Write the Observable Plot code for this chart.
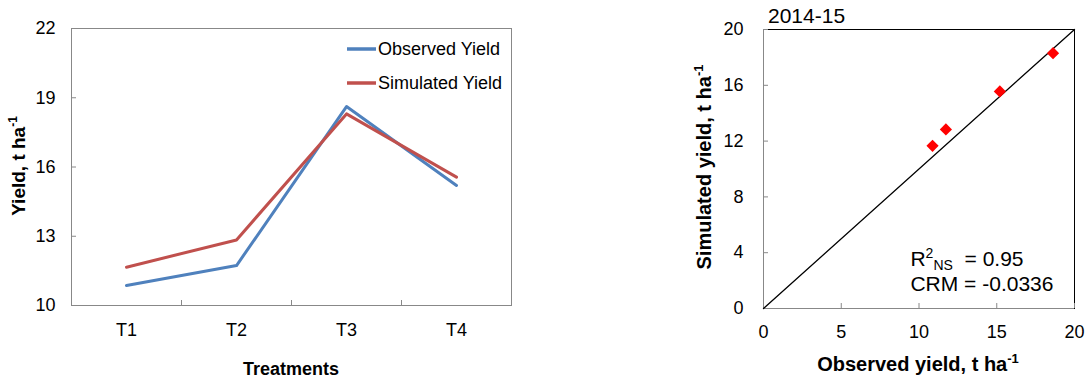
<!DOCTYPE html>
<html><head><meta charset="utf-8">
<script src="https://cdn.jsdelivr.net/npm/d3@7"></script>
<script src="https://cdn.jsdelivr.net/npm/@observablehq/plot@0.6"></script>
<style>
body{margin:0;background:#fff}
#c{display:flex;width:1088px;height:379px}
svg{font-family:"Liberation Sans",Arial,sans-serif}
</style>
</head><body><div id="c"></div>
<script>
// ---- data ----
const treatments = ["T1", "T2", "T3", "T4"];
const observed = [10.87, 11.73, 18.62, 15.2];
const simulated = [11.66, 12.84, 18.3, 15.56];
const seriesNames = ["Observed Yield", "Simulated Yield"];
const seriesColors = ["#4F81BD", "#C0504D"];
const yTicksLeft = [10, 13, 16, 19, 22];
const xTicksRight = [0, 5, 10, 15, 20];
const yTicksRight = [0, 4, 8, 12, 16, 20];
const oneToOne = [0, 20];
const panelTitle = "2014-15";
const statNames = ["R", "CRM"];
const statValues = ["0.95", "-0.0336"];
const statX = [9.45, 9.45];
const statY = [3.5, 1.75];

const FONT = '"Liberation Sans",Arial,sans-serif';

// ---- left panel ----
const rows = treatments.flatMap((t, i) => [
  {i: i + 1, t, y: observed[i], s: seriesNames[0]},
  {i: i + 1, t, y: simulated[i], s: seriesNames[1]}
]);
const left = Plot.plot({
  width: 680, height: 379,
  marginLeft: 71, marginRight: 169, marginTop: 28, marginBottom: 74,
  style: {fontSize: "18px", fontFamily: FONT, color: "#000", background: "transparent"},
  x: {domain: [0.5, 4.5]},
  y: {domain: [10, 22]},
  color: {domain: seriesNames, range: seriesColors},
  marks: [
    Plot.frame({stroke: "#888"}),
    Plot.axisY({ticks: yTicksLeft, tickSize: -5, tickPadding: 21, stroke: "#888", label: null}),
    Plot.axisX({ticks: [1, 2, 3, 4], tickFormat: d => treatments[d - 1], tickSize: 0, tickPadding: 18, label: null}),
    Plot.axisX({ticks: [1.5, 2.5, 3.5], tickSize: -5, tickFormat: () => "", stroke: "#888", label: null}),
    Plot.line(rows, {x: "i", y: "y", stroke: "s", strokeWidth: 3})
  ]
});

// ---- right panel ----
const pairs = observed.map((o, i) => ({o, s: simulated[i]}));
const stats = statNames.map((n, i) => ({n, v: statValues[i], x: statX[i], y: statY[i]}));
const right = Plot.plot({
  width: 408, height: 379,
  marginLeft: 83, marginRight: 14, marginTop: 29, marginBottom: 71,
  style: {fontSize: "18px", fontFamily: FONT, color: "#000", background: "transparent"},
  x: {domain: [0, 20]},
  y: {domain: [0, 20]},
  marks: [
    Plot.frame({stroke: "#000"}),
    Plot.ruleX([0], {stroke: "#888"}),
    Plot.ruleY([0], {stroke: "#888"}),
    Plot.axisX({ticks: xTicksRight, tickSize: -5, tickPadding: 22, stroke: "#888", label: null}),
    Plot.axisY({ticks: yTicksRight, tickSize: -5, tickPadding: 25, stroke: "#888", label: null}),
    Plot.line(oneToOne, {x: d => d, y: d => d, stroke: "#000", strokeWidth: 1.3}),
    Plot.dot(pairs, {x: "o", y: "s", symbol: "diamond2", fill: "#FF0000", r: 5.5}),
    Plot.text(stats, {x: "x", y: "y", text: d => d.n, textAnchor: "start", fontSize: 21, className: "stat"})
  ]
});

const c = document.getElementById("c");
c.append(left, right);

// ---- decorations ----
const sl = d3.select(left);
sl.append("text").attr("transform", "translate(25,166) rotate(-90)")
  .attr("text-anchor", "middle").attr("font-weight", "bold").attr("font-size", 19).attr("font-family", FONT)
  .html('Yield, t ha<tspan dy="-8" font-size="12">-1</tspan>');
sl.append("text").attr("x", 291).attr("y", 375).attr("text-anchor", "middle")
  .attr("font-weight", "bold").attr("font-size", 18).attr("font-family", FONT).text("Treatments");
const lg = sl.append("g").attr("font-family", FONT).attr("font-size", 18).attr("text-anchor", "start");
seriesNames.forEach((n, k) => {
  const yy = 49 + k * 34;
  lg.append("line").attr("x1", 347).attr("x2", 376).attr("y1", yy).attr("y2", yy)
    .attr("stroke", seriesColors[k]).attr("stroke-width", 3.5);
  lg.append("text").attr("x", 378).attr("y", yy).attr("dy", "0.35em").text(n);
});

const sr = d3.select(right);
sr.append("text").attr("transform", `translate(${711 - 680},167) rotate(-90)`)
  .attr("text-anchor", "middle").attr("font-weight", "bold").attr("font-size", 20).attr("font-family", FONT)
  .html('Simulated yield, t ha<tspan dy="-8" font-size="13">-1</tspan>');
sr.append("text").attr("x", 918 - 680).attr("y", 371).attr("text-anchor", "middle")
  .attr("font-weight", "bold").attr("font-size", 20).attr("font-family", FONT)
  .html('Observed yield, t ha<tspan dy="-8" font-size="13">-1</tspan>');
sr.append("text").attr("x", 768 - 680).attr("y", 23).attr("text-anchor", "start")
  .attr("font-size", 21).attr("font-family", FONT).text(panelTitle);
sr.selectAll(".stat text").each(function(d, i) {
  const t = d3.select(this);
  if (i === 0) {
    t.attr("xml:space", "preserve");
    t.html(`R<tspan dy="-8" font-size="14">2</tspan><tspan dy="12" font-size="14">NS</tspan><tspan dy="-4">  = ${statValues[0]}</tspan>`);
  } else {
    t.text(`${statNames[1]} = ${statValues[1]}`);
  }
});
</script>
</body></html>
